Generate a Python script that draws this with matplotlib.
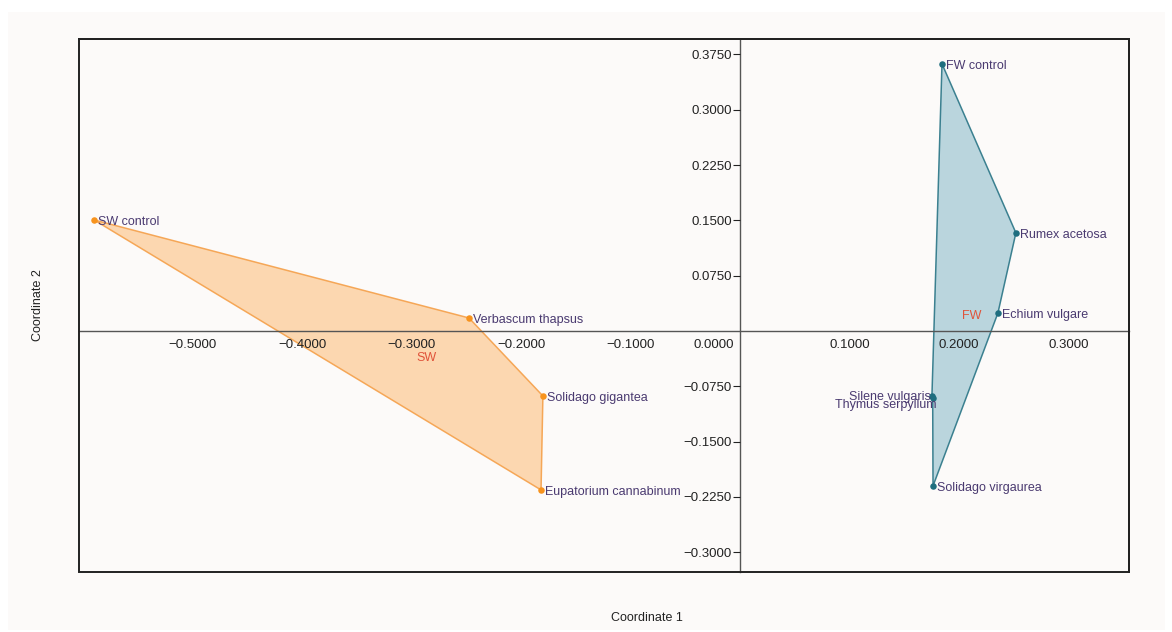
import matplotlib.pyplot as plt
from matplotlib.patches import Polygon, Rectangle
from matplotlib.ticker import FuncFormatter
from matplotlib.transforms import ScaledTranslation

plt.rcParams['font.family'] = ['Liberation Sans', 'DejaVu Sans']

# sample coordinates
sw_names = ["SW control", "Verbascum thapsus", "Solidago gigantea", "Eupatorium cannabinum"]
sw_x = [-0.590, -0.2475, -0.180, -0.1817]
sw_y = [0.1506, 0.0176, -0.0882, -0.2157]

fw_names = ["FW control", "Rumex acetosa", "Echium vulgare", "Solidago virgaurea",
            "Silene vulgaris", "Thymus serpyllum"]
fw_x = [0.1845, 0.2520, 0.2356, 0.1763, 0.1753, 0.1760]
fw_y = [0.3623, 0.1330, 0.0244, -0.2103, -0.0885, -0.0905]

# convex hull order (indices into the lists above)
sw_hull = [0, 1, 2, 3]
fw_hull = [0, 1, 2, 3, 5, 4]

group_names = ["SW", "FW"]
group_x = [-0.286, 0.212]
group_y = [-0.0366, 0.0204]

x_ticks = [-0.5, -0.4, -0.3, -0.2, -0.1, 0.0, 0.1, 0.2, 0.3]
y_ticks = [0.375, 0.3, 0.225, 0.15, 0.075, -0.075, -0.15, -0.225, -0.3]

bg = "#fcfaf9"
label_col = "#4a3a70"
group_col = "#e0533a"
sw_col, sw_fill = "#f5a04a", "#fdd4a8"
fw_col, fw_fill = "#2a7586", "#b3d1da"


def fmt(v, pos=None):
    if abs(v) < 1e-9:
        return "0.0000"
    return ("%.4f" % v).replace("-", "\u2212")


fig = plt.figure(figsize=(11.72, 6.32), dpi=100, facecolor="white")
fig.patches.append(Rectangle((8 / 1172, 2 / 632), 1157 / 1172, 618 / 632,
                             transform=fig.transFigure, facecolor=bg,
                             edgecolor="none", zorder=-10))
ax = fig.add_axes([79 / 1172, 60 / 632, 1050 / 1172, 533 / 632])
ax.set_facecolor(bg)
ax.set_axisbelow(False)

ax.set_xlim(-0.6037, 0.3553)
ax.set_ylim(-0.327, 0.396)

# convex hulls
sw_pts = [(sw_x[i], sw_y[i]) for i in sw_hull]
fw_pts = [(fw_x[i], fw_y[i]) for i in fw_hull]
ax.add_patch(Polygon(sw_pts, closed=True, facecolor=sw_fill, edgecolor=sw_col,
                     lw=1.1, alpha=0.9, zorder=2))
ax.add_patch(Polygon(fw_pts, closed=True, facecolor=fw_fill, edgecolor=fw_col,
                     lw=1.1, alpha=0.9, zorder=2))

ax.scatter(sw_x, sw_y, s=22, color="#f7931e", zorder=4, linewidths=0)
ax.scatter(fw_x, fw_y, s=22, color="#1f6e7f", zorder=4, linewidths=0)

for name, x, y in zip(sw_names, sw_x, sw_y):
    ax.annotate(name, (x, y), xytext=(3, -1.3), textcoords="offset points",
                ha="left", va="center", fontsize=9, color=label_col, zorder=5)

for name, x, y in zip(fw_names, fw_x, fw_y):
    if name == "Silene vulgaris":
        ax.annotate(name, (x, y), xytext=(-1, -0.5), textcoords="offset points",
                    ha="right", va="center", fontsize=9, color=label_col, zorder=5)
    elif name == "Thymus serpyllum":
        ax.annotate(name, (x, y), xytext=(2.5, -5.5), textcoords="offset points",
                    ha="right", va="center", fontsize=9, color=label_col, zorder=5)
    else:
        ax.annotate(name, (x, y), xytext=(3, -1.3), textcoords="offset points",
                    ha="left", va="center", fontsize=9, color=label_col, zorder=5)

for name, x, y in zip(group_names, group_x, group_y):
    ax.text(x, y, name, ha="center", va="center", fontsize=9, color=group_col, zorder=5)

# axes crossing at the origin, plus a full frame
ax.spines["left"].set_position("zero")
ax.spines["bottom"].set_position("zero")
for s in ["left", "bottom"]:
    ax.spines[s].set_color("#555555")
    ax.spines[s].set_linewidth(1.0)
for s in ["top", "right"]:
    ax.spines[s].set_color("#222222")
    ax.spines[s].set_linewidth(1.4)
ax.add_patch(Rectangle((0, 0), 1, 1, transform=ax.transAxes, fill=False,
                       edgecolor="#222222", lw=1.4, clip_on=False, zorder=6))

ax.set_xticks(x_ticks)
ax.set_yticks(y_ticks)
ax.xaxis.set_major_formatter(FuncFormatter(fmt))
ax.yaxis.set_major_formatter(FuncFormatter(fmt))
ax.tick_params(axis="x", length=0, pad=6, labelsize=9.5, colors="#222222")
ax.tick_params(axis="y", length=5, direction="out", pad=1, labelsize=9.5, colors="#222222")

fig.canvas.draw()
for t, v in zip(ax.get_xticklabels(), x_ticks):
    if abs(v) < 1e-9:
        t.set_horizontalalignment("right")
        t.set_transform(t.get_transform() + ScaledTranslation(-4 / 72, 0, fig.dpi_scale_trans))

fig.text(647 / 1172, 1 - 618 / 632, "Coordinate 1", ha="center", va="center",
         fontsize=9, color="#222222")
fig.text(38 / 1172, 1 - 305 / 632, "Coordinate 2", ha="center", va="center",
         rotation=90, fontsize=9, color="#222222")

fig.savefig("out.png", dpi=100, facecolor=fig.get_facecolor())
